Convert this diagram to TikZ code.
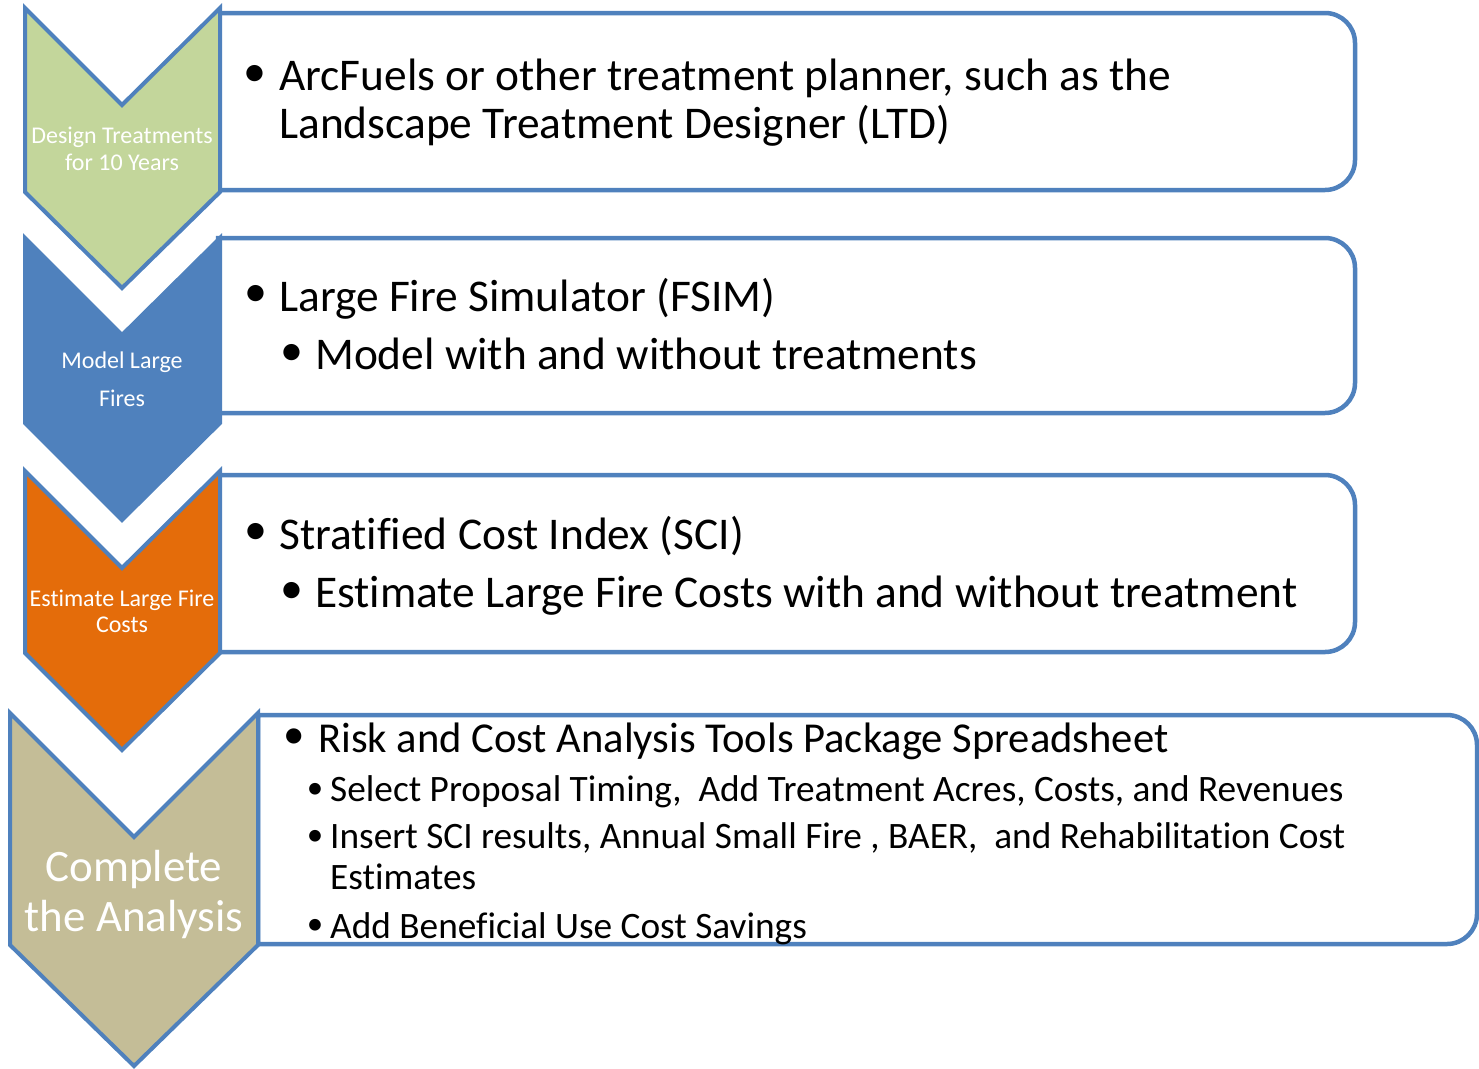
\documentclass[tikz,border=0pt]{standalone}
\usepackage{fontspec}
\setmainfont{Carlito}[Ligatures={NoCommon}]

\definecolor{stepblue}{HTML}{4F81BD}
\definecolor{stepgreen}{HTML}{C3D69B}
\definecolor{steporange}{HTML}{E46C0A}
\definecolor{steptan}{HTML}{C4BD97}

\tikzset{
  frameline/.style={draw=stepblue, line width=4.5pt, fill=white},
  chevline/.style={draw=stepblue, line width=4pt, line join=miter},
  chevtext/.style={anchor=base, inner sep=0pt, text=white, font=\fontsize{#1}{#1}\selectfont},
  mainline/.style={anchor=base west, inner sep=0pt, font=\fontsize{45.4}{45.4}\selectfont},
  toolline/.style={anchor=base west, inner sep=0pt, font=\fontsize{42.6}{42.6}\selectfont},
  subline/.style={anchor=base west, inner sep=0pt, font=\fontsize{37.3}{37.3}\selectfont},
  dot/.style={anchor=center, inner sep=0pt, font=\fontsize{#1}{#1}\selectfont},
}

\begin{document}
\begin{tikzpicture}[x=1pt, y=-1pt]
\useasboundingbox (0,0) rectangle (1479,1068);

% step 1: design treatments
\draw [frameline] (218,13) -- (1325,13) arc[start angle=-90, end angle=0, radius=30]
  -- (1355,160) arc[start angle=0, end angle=90, radius=30] -- (218,190) -- cycle;
\draw [chevline, fill=stepgreen] (25,8) -- (122,105) -- (220,8) -- (220,192) -- (122,288) -- (25,192) -- cycle;
\node (design1) [chevtext=24] at (122,143) {Design Treatments};
\node (design2) [chevtext=24] at (122,170) {for 10 Years};
\node (b1) [dot=46] at (255,76) {•};
\node (arc1) [mainline] at (279,90) {ArcFuels or other treatment planner, such as the};
\node (arc2) [mainline] at (279,138) {Landscape Treatment Designer (LTD)};

% step 2: model large fires
\draw [frameline] (218,238) -- (1325,238) arc[start angle=-90, end angle=0, radius=30]
  -- (1355,383) arc[start angle=0, end angle=90, radius=30] -- (218,413) -- cycle;
\draw [chevline, fill=stepblue] (25,238) -- (122,335) -- (220,238) -- (220,423) -- (122,520) -- (25,423) -- cycle;
\node (model1) [chevtext=24] at (122,368) {Model Large};
\node (model2) [chevtext=24] at (122,406) {Fires};
\node (b2) [dot=46] at (256,296) {•};
\node (fsim) [mainline] at (279,311) {Large Fire Simulator (FSIM)};
\node (b2a) [dot=46] at (292,355) {•};
\node (fsimsub) [mainline] at (315,369) {Model with and without treatments};

% step 3: estimate large fire costs
\draw [frameline] (218,475) -- (1325,475) arc[start angle=-90, end angle=0, radius=30]
  -- (1355,622) arc[start angle=0, end angle=90, radius=30] -- (218,652) -- cycle;
\draw [chevline, fill=steporange] (25,471) -- (122,568) -- (220,471) -- (220,653) -- (122,750) -- (25,653) -- cycle;
\node (cost1) [chevtext=24] at (122,606) {Estimate Large Fire};
\node (cost2) [chevtext=24] at (122,632) {Costs};
\node (b3) [dot=46] at (256,534) {•};
\node (sci) [mainline] at (279,549) {Stratified Cost Index (SCI)};
\node (b3a) [dot=46] at (292,593) {•};
\node (scisub) [mainline] at (315,607) {Estimate Large Fire Costs with and without treatment};

% step 4: complete the analysis
\draw [frameline] (258,715) -- (1447,715) arc[start angle=-90, end angle=0, radius=30]
  -- (1477,914) arc[start angle=0, end angle=90, radius=30] -- (258,944) -- cycle;
\draw [chevline, fill=steptan] (10,713) -- (134,837) -- (258,713) -- (258,945) -- (134,1066) -- (10,945) -- cycle;
\node (done1) [chevtext=45] at (134,881) {Complete};
\node (done2) [chevtext=45] at (134,931) {the Analysis};
\node (b4) [dot=43] at (294,739) {•};
\node (rcat) [toolline] at (318,752) {Risk and Cost Analysis Tools Package Spreadsheet};
\node (b4a) [dot=33] at (315,791) {•};
\node (timing) [subline] at (330,801) {Select Proposal Timing,\ \ Add Treatment Acres, Costs, and Revenues};
\node (b4b) [dot=33] at (315,838) {•};
\node (insert1) [subline] at (330,848) {Insert SCI results, Annual Small Fire , BAER,\ \ and Rehabilitation Cost};
\node (insert2) [subline] at (330,889) {Estimates};
\node (b4c) [dot=33] at (315,927) {•};
\node (savings) [subline] at (330,938) {Add Beneficial Use Cost Savings};
\end{tikzpicture}
\end{document}
